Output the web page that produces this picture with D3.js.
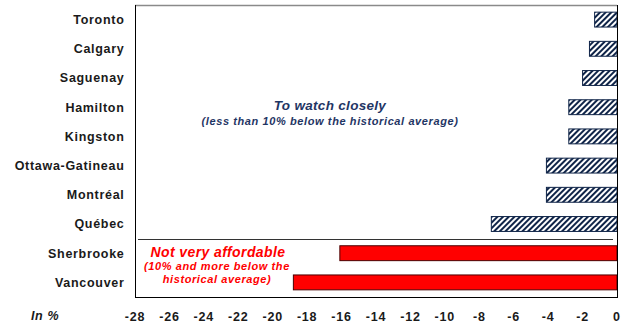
<!DOCTYPE html>
<html>
<head>
<meta charset="utf-8">
<script src="https://cdn.jsdelivr.net/npm/d3@7"></script>
<style>
	body { margin: 0; background: #fff; }
	svg { display: block; font-family: "Liberation Sans", Arial, sans-serif; }
</style>
</head>
<body>
<svg id="chart"></svg>
<script>
const cities = ['Toronto', 'Calgary', 'Saguenay', 'Hamilton', 'Kingston', 'Ottawa-Gatineau', 'Montréal', 'Québec', 'Sherbrooke', 'Vancouver'];
const values = [-1.3, -1.6, -2.0, -2.8, -2.8, -4.1, -4.1, -7.3, -16.1, -18.8];
const groups = ['watch', 'watch', 'watch', 'watch', 'watch', 'watch', 'watch', 'watch', 'notAffordable', 'notAffordable'];
const xTicks = d3.range(-28, 1, 2);

const width = 628, height = 324;
const plotLeft = 135, plotRight = 617, plotTop = 5, plotBottom = 297;
const navy = '#1f3564';

const svg = d3.select('#chart')
	.attr('width', width)
	.attr('height', height);

// hatch pattern for the "to watch" bars
const defs = svg.append('defs');
const pattern = defs.append('pattern')
	.attr('id', 'hatch')
	.attr('patternUnits', 'userSpaceOnUse')
	.attr('width', 4)
	.attr('height', 4)
	.attr('patternTransform', 'rotate(45)');
pattern.append('rect').attr('width', 4).attr('height', 4).attr('fill', '#fff');
pattern.append('rect').attr('width', 2).attr('height', 4).attr('fill', '#0f2448');

const x = d3.scaleLinear().domain([-28, 0]).range([plotLeft, plotRight]);
const y = d3.scaleBand().domain(cities).range([plotTop, plotBottom]).paddingInner(0.49).paddingOuter(0.245);

const data = cities.map((c, i) => ({ city: c, value: values[i], group: groups[i] }));

// frame
svg.append('line')
	.attr('x1', plotLeft).attr('x2', plotRight).attr('y1', plotTop + 0.5).attr('y2', plotTop + 0.5)
	.attr('stroke', '#8a8a8a').attr('stroke-width', 1.5);
svg.append('line')
	.attr('x1', plotLeft + 0.5).attr('x2', plotLeft + 0.5).attr('y1', plotTop).attr('y2', plotBottom)
	.attr('stroke', '#000');
svg.append('line')
	.attr('x1', plotLeft).attr('x2', plotRight).attr('y1', plotBottom + 0.5).attr('y2', plotBottom + 0.5)
	.attr('stroke', '#000');

// separator between groups
const sepY = (y('Québec') + y.bandwidth() + y('Sherbrooke')) / 2;
svg.append('line')
	.attr('x1', plotLeft + 3).attr('x2', plotRight - 4).attr('y1', Math.round(sepY) + 0.5).attr('y2', Math.round(sepY) + 0.5)
	.attr('stroke', '#333');

// bars
svg.append('g').selectAll('rect')
	.data(data)
	.join('rect')
	.attr('x', d => x(d.value))
	.attr('y', d => y(d.city))
	.attr('width', d => x(0) - x(d.value))
	.attr('height', y.bandwidth())
	.attr('fill', d => d.group === 'watch' ? 'url(#hatch)' : '#ff0000')
	.attr('stroke', d => d.group === 'watch' ? '#0f2448' : '#4a0000')
	.attr('stroke-width', 1);

// zero line
svg.append('line')
	.attr('x1', x(0) + 0.5).attr('x2', x(0) + 0.5).attr('y1', plotTop).attr('y2', plotBottom + 1)
	.attr('stroke', '#000');

// category labels
svg.append('g').selectAll('text')
	.data(cities)
	.join('text')
	.attr('x', 124.5)
	.attr('y', d => y(d) + y.bandwidth() / 2)
	.attr('dy', '0.35em')
	.attr('text-anchor', 'end')
	.attr('font-size', 12.5)
	.attr('font-weight', 'bold')
	.attr('fill', '#1a1a1a')
	.attr('letter-spacing', 0.7)
	.text(d => d);

// x tick labels
svg.append('g').selectAll('text')
	.data(xTicks)
	.join('text')
	.attr('x', d => x(d))
	.attr('y', 321)
	.attr('text-anchor', 'middle')
	.attr('font-size', 12.5)
	.attr('font-weight', 'bold')
	.attr('fill', '#1a1a1a')
	.attr('letter-spacing', 0.8)
	.text(d => d);

svg.append('text')
	.attr('x', 31).attr('y', 320)
	.attr('font-size', 12.5).attr('font-weight', 'bold').attr('font-style', 'italic')
	.attr('fill', '#1a1a1a')
	.attr('letter-spacing', 0.6)
	.text('In %');

// annotations
const watch = svg.append('g').attr('text-anchor', 'middle').attr('font-weight', 'bold').attr('font-style', 'italic').attr('fill', navy);
watch.append('text').attr('x', 330).attr('y', 110).attr('font-size', 13.5).attr('letter-spacing', 0.3).text('To watch closely');
watch.append('text').attr('x', 330).attr('y', 125).attr('font-size', 11).attr('letter-spacing', 0.6).text('(less than 10% below the historical average)');

const notAff = svg.append('g').attr('text-anchor', 'middle').attr('font-weight', 'bold').attr('font-style', 'italic').attr('fill', '#ff0000');
notAff.append('text').attr('x', 218).attr('y', 257).attr('font-size', 14).attr('letter-spacing', 0.4).text('Not very affordable');
notAff.append('text').attr('x', 217).attr('y', 270).attr('font-size', 11).attr('letter-spacing', 0.6).text('(10% and more below the');
notAff.append('text').attr('x', 217).attr('y', 283).attr('font-size', 11).attr('letter-spacing', 0.6).text('historical average)');
</script>
</body>
</html>
